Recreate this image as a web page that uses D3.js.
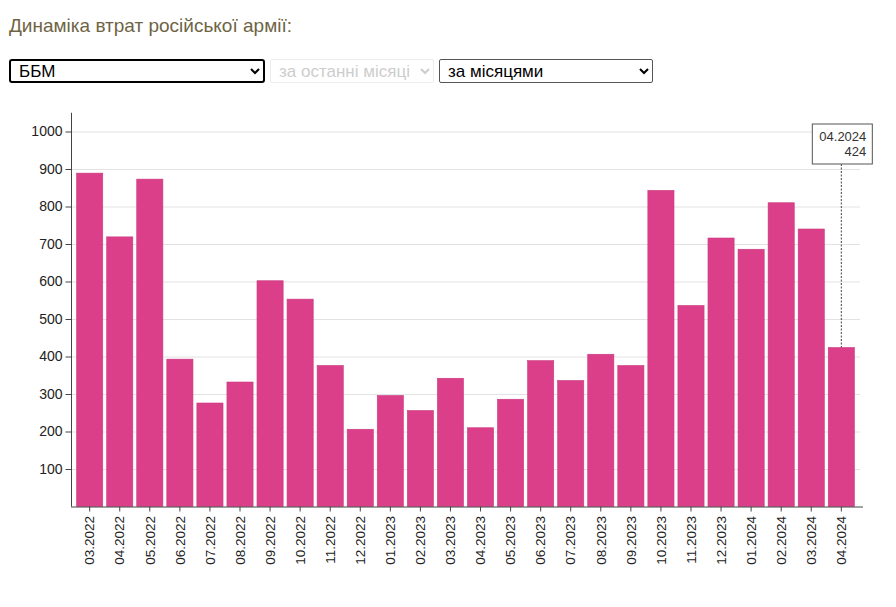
<!DOCTYPE html>
<html lang="uk">
<head>
<meta charset="utf-8">
<script src="https://cdn.jsdelivr.net/npm/d3@7"></script>
<style>
  html, body { margin: 0; padding: 0; background: #fff; }
  body { width: 896px; height: 607px; position: relative; overflow: hidden;
         font-family: "Liberation Sans", Arial, sans-serif; }
  #chart { position: absolute; left: 0; top: 0; }
  .title { position: absolute; left: 9px; top: 15px; font-size: 19px; color: #6e6444; }
  select { position: absolute; top: 59px; height: 24px; font-family: "Liberation Sans", Arial, sans-serif;
           font-size: 17px; background: #fff; color: #000; padding: 0 4px; box-sizing: border-box; }
  #kind { left: 9px; width: 256px; border: 2px solid #000; border-radius: 3px; }
  #range { left: 270px; width: 164px; border: 1px solid #e4e4e4; color: #b8b8b8; border-radius: 2px; }
  #step { left: 439px; width: 214px; border: 1px solid #555; border-radius: 2px; }
  .grid line { stroke: #e2e2e2; stroke-width: 1; }
  .axis text { font-family: "Liberation Sans", Arial, sans-serif; fill: #222; }
  .y.axis text { font-size: 14px; }
  .x.axis text { font-size: 13.5px; }
  .axis line, .axis path { stroke: #444; }
</style>
</head>
<body>
<svg id="chart" width="896" height="607"></svg>
<div class="title">Динаміка втрат російської армії:</div>
<select id="kind"><option>ББМ</option></select>
<select id="range" disabled><option>за останні місяці</option></select>
<select id="step"><option>за місяцями</option></select>
<script>
  // ── Data ──
  const months = ["03.2022","04.2022","05.2022","06.2022","07.2022","08.2022","09.2022","10.2022",
    "11.2022","12.2022","01.2023","02.2023","03.2023","04.2023","05.2023","06.2023","07.2023",
    "08.2023","09.2023","10.2023","11.2023","12.2023","01.2024","02.2024","03.2024","04.2024"];
  const losses = [889, 719, 873, 393, 276, 332, 602, 553, 376, 206, 296, 256, 342, 210, 286, 389,
    336, 406, 376, 843, 536, 716, 686, 810, 740, 424];
  const yTicks = [100, 200, 300, 400, 500, 600, 700, 800, 900, 1000];

  const svg = d3.select("#chart");
  const plotLeft = 71, plotRight = 863, plotTop = 112.75, plotBottom = 506.5;

  const x = d3.scaleBand().domain(months).range([76, 855]).paddingInner(0.13).paddingOuter(0.02);
  const y = d3.scaleLinear().domain([0, 1050]).range([plotBottom, plotTop]);

  // gridlines
  svg.append("g").attr("class", "grid")
    .selectAll("line").data(yTicks).join("line")
    .attr("x1", plotLeft).attr("x2", 860)
    .attr("y1", d => y(d) + 0.5).attr("y2", d => y(d) + 0.5);

  // bars
  svg.append("g").selectAll("rect").data(losses).join("rect")
    .attr("x", (d, i) => x(months[i]))
    .attr("width", x.bandwidth())
    .attr("y", d => y(d))
    .attr("height", d => plotBottom - y(d))
    .attr("fill", "#dc3f8a")
    .attr("stroke", "#c93a7e")
    .attr("stroke-width", 0.6);

  // y axis
  const yAxis = svg.append("g").attr("class", "y axis")
    .attr("transform", `translate(${plotLeft + 0.5},0)`)
    .call(d3.axisLeft(y).tickValues(yTicks).tickFormat(d3.format("d"))
      .tickSize(6).tickSizeOuter(0).tickPadding(3));
  yAxis.select(".domain").attr("d", `M0,${plotTop}V${plotBottom}`);

  // x axis
  const xAxis = svg.append("g").attr("class", "x axis")
    .attr("transform", `translate(0,${plotBottom})`)
    .call(d3.axisBottom(x).tickSize(5).tickSizeOuter(0));
  xAxis.select(".domain").attr("d", `M${plotLeft},0.5H${plotRight}`);
  xAxis.selectAll(".tick text")
    .attr("transform", "rotate(-90)")
    .attr("text-anchor", "end")
    .attr("x", -9.5).attr("y", 0).attr("dy", "0.35em");

  // ── Tooltip on last bar ──
  const li = months.length - 1;
  const cx = x(months[li]) + x.bandwidth() / 2;
  const boxTop = 124, boxH = 40, boxW = 60;
  svg.append("line")
    .attr("x1", cx).attr("x2", cx)
    .attr("y1", boxTop + boxH).attr("y2", y(losses[li]))
    .attr("stroke", "#444").attr("stroke-dasharray", "2,1.5").attr("stroke-width", 1);
  const tip = svg.append("g").attr("transform", `translate(${cx - 29},${boxTop})`);
  tip.append("rect").attr("width", boxW).attr("height", boxH)
    .attr("fill", "#fff").attr("stroke", "#555").attr("stroke-width", 1);
  tip.append("text").attr("x", boxW - 6).attr("y", 16.5).attr("text-anchor", "end")
    .attr("font-size", 13).attr("fill", "#333").text(months[li]);
  tip.append("text").attr("x", boxW - 6).attr("y", 32).attr("text-anchor", "end")
    .attr("font-size", 13).attr("fill", "#333").text(losses[li]);
</script>
</body>
</html>
